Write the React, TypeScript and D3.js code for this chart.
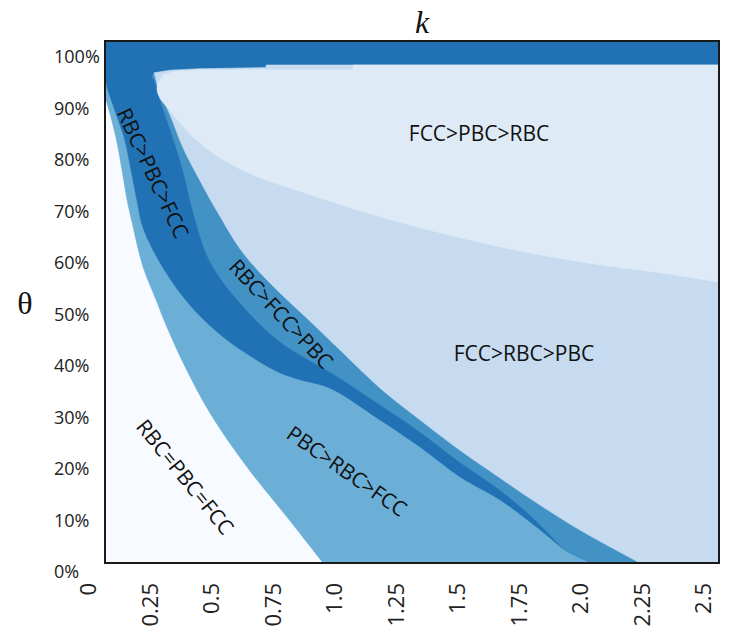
import React from "react";
import * as d3 from "d3";

// ---------- data (k, θ%) ----------
const kTicks = [0, 0.25, 0.5, 0.75, 1.0, 1.25, 1.5, 1.75, 2.0, 2.25, 2.5];
const kTickLabels = ["0", "0.25", "0.5", "0.75", "1.0", "1.25", "1.5", "1.75", "2.0", "2.25", "2.5"];
const thetaTicks = [0, 10, 20, 30, 40, 50, 60, 70, 80, 90, 100];
const thetaTickLabels = ["0%", "10%", "20%", "30%", "40%", "50%", "60%", "70%", "80%", "90%", "100%"];

// boundary: RBC=PBC=FCC | PBC>RBC>FCC
const whiteEdgeK = [0, 0.016, 0.045, 0.069, 0.09, 0.11, 0.155, 0.208, 0.252, 0.326, 0.428, 0.578, 0.741, 0.888];
const whiteEdgeT = [89.3, 86.8, 81.4, 75.3, 69.5, 65.3, 56.7, 50.4, 45.2, 37.6, 28.7, 18.4, 8.8, 0];

// boundary: PBC>RBC>FCC | RBC>PBC>FCC (dark band lower edge)
const darkLowK = [0, 0.012, 0.033, 0.061, 0.081, 0.106, 0.13, 0.151, 0.195, 0.277, 0.375, 0.497, 0.631, 0.713, 0.794, 0.916, 1.12, 1.283, 1.445, 1.608, 1.73, 1.812, 1.873, 1.983];
const darkLowT = [93.1, 90.6, 87.7, 83.9, 81.0, 75.3, 69.5, 64.8, 60.0, 53.6, 47.9, 42.7, 38.5, 36.4, 35.1, 33.5, 27.4, 22.2, 16.5, 12.1, 7.9, 4.8, 2.5, 0];

// boundary: RBC>PBC>FCC | RBC>FCC>PBC
const darkHighK = [0.191, 0.204, 0.232, 0.277, 0.318, 0.362, 0.428, 0.55, 0.704, 0.814, 0.916, 1.12, 1.283, 1.445, 1.608, 1.73, 1.812, 1.873, 1.983];
const darkHighT = [93.3, 92.1, 87.7, 81.4, 75.1, 66.7, 57.7, 49.8, 42.7, 39.3, 36.6, 30.3, 25.1, 19.3, 14.0, 9.2, 5.4, 2.5, 0];

// boundary: RBC>FCC>PBC | FCC>RBC>PBC
const midEdgeK = [0.208, 0.216, 0.265, 0.318, 0.387, 0.456, 0.562, 0.7, 0.822, 0.957, 1.12, 1.283, 1.445, 1.608, 1.771, 1.934, 2.056, 2.178];
const midEdgeT = [92.5, 91.0, 85.8, 79.5, 73.2, 67.4, 59.4, 52.3, 46.9, 40.8, 33.5, 27.4, 21.6, 16.3, 11.1, 6.3, 3.1, 0];

// boundary: FCC>RBC>PBC | FCC>PBC>RBC
const topEdgeK = [0.216, 0.212, 0.224, 0.252, 0.334, 0.428, 0.521, 0.631, 0.774, 1.071, 1.368, 1.665, 1.958, 2.256, 2.5];
const topEdgeT = [92.0, 90.6, 89.0, 87.4, 82.8, 78.9, 76.2, 73.8, 71.5, 67.0, 63.2, 60.0, 57.5, 55.6, 53.8];

// lower edge of the dark top band
const bandK = [0.2, 0.265, 0.387, 0.656, 0.656, 2.5];
const bandT = [93.9, 94.4, 94.7, 94.9, 95.4, 95.4];
// upper edge of FCC>PBC>RBC
const band2K = [0.236, 0.285, 0.387, 0.656, 1.01, 1.01, 2.5];
const band2T = [93.5, 94.2, 94.5, 94.5, 94.5, 95.4, 95.4];

const regionNames = ["FCC>PBC>RBC", "FCC>RBC>PBC", "RBC>PBC>FCC", "RBC>FCC>PBC", "PBC>RBC>FCC", "RBC=PBC=FCC"];
const regionLabelK = [1.523, 1.706, 0.195, 0.717, 0.985, 0.326];
const regionLabelT = [82.2, 40.2, 74.7, 47.7, 17.6, 16.5];
const regionLabelAngle = [0, 0, 65, 47, 35, 51];

const colors = {
  none: "#f7fbff",
  pbcRbcFcc: "#6baed6",
  rbcPbcFcc: "#2171b5",
  rbcFccPbc: "#4292c6",
  fccRbcPbc: "#c6dbef",
  fccPbcRbc: "#deebf7",
};

// ---------- layout ----------
const W = 730, H = 632;
const X0 = 105, X1 = 719, Y0 = 41, Y1 = 563;

type P = [number, number];
const zip = (ks: number[], ts: number[]) => ks.map((k, i) => [k, ts[i]] as P);

export default function App() {
  const x = d3.scaleLinear().domain([0, 2.5]).range([X0, X1]);
  const y = d3.scaleLinear().domain([0, 100]).range([Y1, Y0]);
  // tick labels sit slightly offset from the frame in the original figure
  const xLab = d3.scaleLinear().domain([0, 2.5]).range([88.5, 703.5]);
  const yLab = d3.scaleLinear().domain([0, 100]).range([572, 56.5]);

  const curve = d3
    .line<P>()
    .x((d) => x(d[0]))
    .y((d) => y(d[1]))
    .curve(d3.curveCatmullRom.alpha(0.5));

  // smooth boundary followed by straight closing points
  const region = (edge: P[], rest: P[]) =>
    (curve(edge) as string) + rest.map((p) => `L${x(p[0])},${y(p[1])}`).join("") + "Z";

  const band = zip(bandK, bandT).reverse();
  const band2 = zip(band2K, band2T).reverse();

  const layers = [
    { fill: colors.pbcRbcFcc, d: region(zip(whiteEdgeK, whiteEdgeT), [[2.5, 0], [2.5, 100], [0, 100]]) },
    { fill: colors.rbcPbcFcc, d: region(zip(darkLowK, darkLowT), [[2.5, 0], [2.5, 100], [0, 100]]) },
    { fill: colors.rbcFccPbc, d: region(zip(darkHighK, darkHighT), [[2.5, 0], ...band]) },
    { fill: colors.fccRbcPbc, d: region(zip(midEdgeK, midEdgeT), [[2.5, 0], ...band]) },
    { fill: colors.fccPbcRbc, d: region(zip(topEdgeK, topEdgeT), band2) },
  ];

  const sans = "'Open Sans', 'DejaVu Sans', sans-serif";
  const serif = "'Liberation Serif', 'DejaVu Serif', serif";

  return (
    <svg width={W} height={H} style={{ position: "absolute", left: 0, top: 0, background: "#fff" }}>
      <defs>
        <clipPath id="plot">
          <rect x={X0} y={Y0} width={X1 - X0} height={Y1 - Y0} />
        </clipPath>
      </defs>
      <g clipPath="url(#plot)">
        <rect x={X0} y={Y0} width={X1 - X0} height={Y1 - Y0} fill={colors.none} />
        {layers.map((l, i) => (
          <path key={i} d={l.d} fill={l.fill} stroke={l.fill} strokeWidth={0.5} />
        ))}
      </g>
      <rect x={X0} y={Y0} width={X1 - X0} height={Y1 - Y0} fill="none" stroke="#1a1a1a" strokeWidth={2} />

      {regionNames.map((t, i) => (
        <text
          key={t}
          transform={`translate(${x(regionLabelK[i])},${y(regionLabelT[i])}) rotate(${regionLabelAngle[i]})`}
          textAnchor="middle"
          dy="0.36em"
          fontFamily={sans}
          fontSize={21}
          fill="#111"
        >
          {t}
        </text>
      ))}

      {thetaTicks.map((v, i) => (
        <text key={v} x={54} y={yLab(v)} dy="0.36em" fontFamily={sans} fontSize={18} fill="#222">
          {thetaTickLabels[i]}
        </text>
      ))}
      {kTicks.map((v, i) => (
        <text
          key={v}
          transform={`translate(${xLab(v)},583) rotate(-90)`}
          textAnchor="end"
          dy="0.36em"
          fontFamily={sans}
          fontSize={22}
          fill="#222"
        >
          {kTickLabels[i]}
        </text>
      ))}

      <text x={422} y={33} textAnchor="middle" fontFamily={serif} fontStyle="italic" fontSize={32} fill="#111">
        k
      </text>
      <text x={25} y={314} textAnchor="middle" fontFamily={serif} fontSize={32} fill="#111">
        θ
      </text>
    </svg>
  );
}
